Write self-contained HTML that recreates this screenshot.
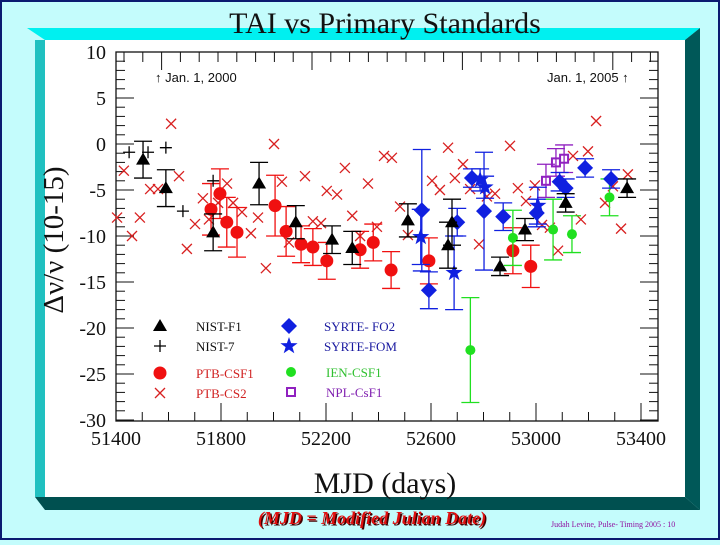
<!DOCTYPE html>
<html><head><meta charset="utf-8"><style>
html,body{margin:0;padding:0;}
body{width:720px;height:540px;overflow:hidden;background:#c4fcfc;position:relative;font-family:"Liberation Serif",serif;}
</style></head><body>
<svg width="720" height="540" xmlns="http://www.w3.org/2000/svg" id="svg">
<rect x="1" y="1" width="718" height="538" fill="#c4fcfc" stroke="#0a1a70" stroke-width="2"/>
<polygon points="27,28 700,28 685,40 45,40" fill="#00f0f0"/>
<polygon points="700,28 700,510 685,497 685,40" fill="#005858"/>
<polygon points="35,40 45,40 45,497 35,497" fill="#20c0c0"/>
<polygon points="35,497 685,497 700,510 45,510" fill="#005050"/>
<rect x="45" y="40" width="640" height="457" fill="#fff"/>
<text x="385" y="33" font-size="30" text-anchor="middle" fill="#111">TAI vs Primary Standards</text>
<g id="plot"></g>
<text x="385" y="493" font-size="30" text-anchor="middle" fill="#111">MJD (days)</text>
<text transform="translate(63,240) rotate(-90)" font-size="29" text-anchor="middle" fill="#111">Δν/ν   (10-15)</text>
<text x="372" y="524" font-size="18" font-weight="bold" font-style="italic" text-anchor="middle" fill="#400" transform="translate(1.5,1.5)">(MJD = Modified Julian Date)</text>
<text x="372" y="524" font-size="18" font-weight="bold" font-style="italic" text-anchor="middle" fill="#e01010">(MJD = Modified Julian Date)</text>
<text x="551" y="527" font-size="8" fill="#9010a0">Judah Levine, Pulse- Timing 2005 : 10</text>
<text x="155" y="82" font-size="13" font-family="Liberation Sans, sans-serif" fill="#111">↑ Jan. 1, 2000</text>
<text x="547" y="82" font-size="13" font-family="Liberation Sans, sans-serif" fill="#111">Jan. 1, 2005 ↑</text>
</svg>
<script>
const nistF1X=[51503,51590,51770,51945,52085,52223,52300,52512,52680,52665,52863,52958,53113,53347];
const nistF1Y=[-1.7,-4.8,-9.6,-4.3,-8.5,-10.4,-11.3,-8.3,-8.5,-11,-13.3,-9.3,-6.4,-4.8];
const nistF1E=[2,2,2,2.3,1.8,1.5,1.8,1.8,2.5,2.5,1,1.2,1,1];
const nist7X=[51450,51522,51590,51655,51770];
const nist7Y=[-0.9,-0.9,-0.4,-7.3,-4];
const csf1X=[51762,51796,51822,51861,52006,52048,52105,52150,52203,52330,52380,52448,52592,52912,52980];
const csf1Y=[-7.1,-5.4,-8.5,-9.6,-6.7,-9.5,-10.9,-11.2,-12.7,-11.5,-10.7,-13.7,-12.7,-11.6,-13.3];
const csf1E=[2.8,2.7,2.7,2.7,3.3,2.7,2,2,2,2,2,2,2.5,2.5,2.3];
const cs2X=[51404,51430,51461,51491,51530,51560,51610,51640,51670,51701,51731,51754,51789,51823,51846,51880,51914,51941,51971,52002,52032,52059,52120,52150,52181,52203,52242,52272,52300,52330,52360,52394,52421,52451,52482,52512,52604,52634,52665,52691,52722,52749,52783,52813,52844,52901,52931,52962,52996,53023,53053,53084,53141,53171,53198,53229,53263,53293,53324,53350];
const cs2Y=[-8,-2.9,-10,-8,-4.9,-4.9,2.2,-3.5,-11.4,-8.7,-5.9,-8.2,-6.4,-4.3,-6.4,-7.4,-9.7,-8,-13.5,0,-4.1,-10.7,-3.5,-8.4,-8.6,-5.1,-5.5,-2.6,-7.8,-10,-4.3,-9,-1.3,-1.5,-6.8,-9.9,-4,-5,-0.4,-3.7,-2.2,-4.9,-10.9,-5.7,-5.4,-0.2,-4.8,-6.2,-4.5,-8.8,-9.1,-11.6,-1.3,-8.2,-0.8,2.5,-6.4,-4.6,-9.2,-3.3];
const fo2X=[52565,52592,52700,52756,52802,52875,53003,53090,53113,53187,53286];
const fo2Y=[-7.2,-15.9,-8.5,-3.7,-7.3,-7.9,-7.5,-4.1,-4.8,-2.6,-3.8];
const fo2E=[6.6,2,1.5,1,6.4,1.5,1.5,1,1,1,1];
const fomX=[52561,52688,52787,52806,53007];
const fomY=[-10.1,-14,-3.9,-4.7,-6.7];
const fomE=[3,4,1.2,1.2,2];
const ienX=[52912,53065,53137,53280,52750];
const ienY=[-10.2,-9.3,-9.8,-5.8,-22.4];
const ienE=[3,3.3,2,2,5.7];
const nplX=[53038,53076,53107];
const nplY=[-4,-2,-1.6];
const nplE=[1.8,1.5,1.5];
const yTicks=[10,5,0,-5,-10,-15,-20,-25,-30];
const xTicks=[51400,51800,52200,52600,53000,53400];

const NS="http://www.w3.org/2000/svg";
const g=document.getElementById('plot');
const X0=116,XK=0.2625,Y0=144,YK=9.2,L=116,R=658,T=52,B=421;
const sx=v=>X0+(v-51400)*XK, sy=v=>Y0-v*YK;
function mk(tag,a,parent){const e=document.createElementNS(NS,tag);for(const k in a)e.setAttribute(k,a[k]);(parent||g).appendChild(e);return e;}
const frame=mk('rect',{x:L,y:T,width:R-L,height:B-T,fill:'none',stroke:'#111','stroke-width':1.3});


for(let v=10;v>=-30;v--){const y=sy(v);const len=(v%5===0)?18:9;
 const t1=mk('line',{x1:L,x2:L+len,y1:y,y2:y,stroke:'#111'});
 const t2=mk('line',{x1:R,x2:R-len,y1:y,y2:y,stroke:'#111'});}
yTicks.forEach(v=>{const t=mk('text',{x:L-10,y:sy(v)+7,'font-size':20,'text-anchor':'end',fill:'#111'});t.textContent=v;
 });
for(let v=51400;v<=53400;v+=100){const x=sx(v);const len=(v%400===200)?18:9;
 const t=mk('line',{x1:x,x2:x,y1:B,y2:B-len,stroke:'#111'});}
for(let i=0;;i++){const x=L+8+i*18.8;if(x>R-4)break;const len=(i%8===2)?18:10;
 const t=mk('line',{x1:x,x2:x,y1:T,y2:T+len,stroke:'#111'});}
xTicks.forEach(v=>{const t=mk('text',{x:sx(v),y:B+24,'font-size':20,'text-anchor':'middle',fill:'#111'});t.textContent=v;
 });
function err(x,y,e,c,name){const px=sx(x),a=sy(y+e),b=sy(y-e);
 const p=mk('path',{d:`M${px},${a}V${b}M${px-9},${a}h18M${px-9},${b}h18`,stroke:c,'stroke-width':1.3,fill:'none'});
 }
function sym(type,cx,cy,c){let e;
 if(type==='tri')e=mk('polygon',{points:`${cx},${cy-7} ${cx+7},${cy+5} ${cx-7},${cy+5}`,fill:c});
 else if(type==='plus')e=mk('path',{d:`M${cx-6},${cy}h12M${cx},${cy-6}v12`,stroke:c,'stroke-width':1.3});
 else if(type==='circ')e=mk('circle',{cx,cy,r:6.5,fill:c});
 else if(type==='x')e=mk('path',{d:`M${cx-5},${cy-5}l10,10M${cx+5},${cy-5}l-10,10`,stroke:c,'stroke-width':1.3});
 else if(type==='dia')e=mk('polygon',{points:`${cx},${cy-8} ${cx+8},${cy} ${cx},${cy+8} ${cx-8},${cy}`,fill:c});
 else if(type==='star'){let pts=[];for(let i=0;i<10;i++){const r=i%2?3.6:9,a=-Math.PI/2+i*Math.PI/5;pts.push((cx+r*Math.cos(a)).toFixed(1)+','+(cy+r*Math.sin(a)).toFixed(1));}e=mk('polygon',{points:pts.join(' '),fill:c});}
 else if(type==='gc')e=mk('circle',{cx,cy,r:5,fill:c});
 else if(type==='sq')e=mk('rect',{x:cx-4,y:cy-4,width:8,height:8,fill:'none',stroke:c,'stroke-width':2});
 return e;}
function series(xs,ys,es,type,c,name){xs.forEach((x,i)=>{if(es)err(x,ys[i],es[i],c,name);
 const e=sym(type,sx(x),sy(ys[i]),c);});}
series(cs2X,cs2Y,null,'x','#d82020','ptb-cs2');
series(csf1X,csf1Y,csf1E,'circ','#f01010','ptb-csf1');
series(ienX,ienY,ienE,'gc','#20e020','ien-csf1');
series(nplX,nplY,nplE,'sq','#9020c0','npl-csf1');
series(fo2X,fo2Y,fo2E,'dia','#1020e0','syrte-fo2');
series(fomX,fomY,fomE,'star','#1020e0','syrte-fom');
series(nistF1X,nistF1Y,nistF1E,'tri','#000','nist-f1');
series(nist7X,nist7Y,null,'plus','#000','nist-7');
const leg=[['tri','#000','NIST-F1',160,326,'#111'],['plus','#000','NIST-7',160,346,'#111'],['circ','#f01010','PTB-CSF1',160,373,'#d02020'],['x','#d82020','PTB-CS2',160,393,'#d02020'],
['dia','#1020e0','SYRTE- FO2',289,326,'#1a1aa0'],['star','#1020e0','SYRTE-FOM',289,346,'#1a1aa0'],['gc','#20e020','IEN-CSF1',291,372,'#30c030'],['sq','#9020c0','NPL-CsF1',291,392,'#8020b0']];
leg.forEach(l=>{const s=sym(l[0],l[3],l[4],l[1]);
 const t=mk('text',{x:l[3]+(l[3]<200?36:35),y:l[4]+5,'font-size':13,fill:l[5]});t.textContent=l[2];
 });
</script>
</body></html>
